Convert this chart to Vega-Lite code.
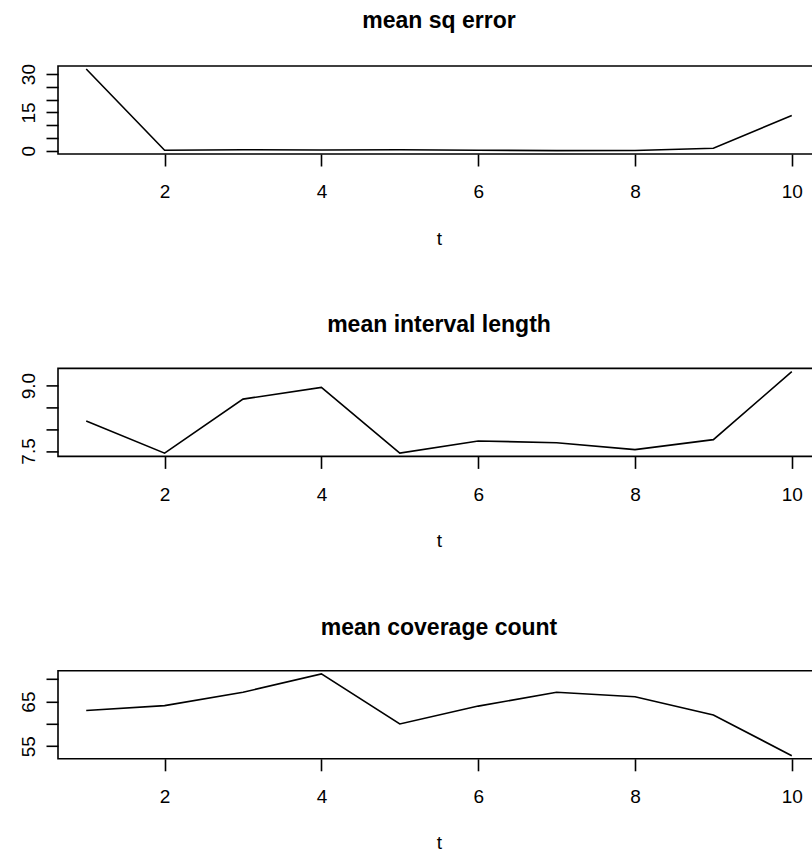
{
  "$schema": "https://vega.github.io/schema/vega-lite/v6.json",
  "padding": {"left": 18, "top": 8, "right": 0, "bottom": 0},
  "background": "white",
  "datasets": {
    "d": [
      {"t": 1, "mse": 32.0, "len": 8.19, "cov": 63.0},
      {"t": 2, "mse": 0.2, "len": 7.45, "cov": 64.1},
      {"t": 3, "mse": 0.4, "len": 8.69, "cov": 67.1},
      {"t": 4, "mse": 0.3, "len": 8.96, "cov": 71.2},
      {"t": 5, "mse": 0.4, "len": 7.45, "cov": 60.0},
      {"t": 6, "mse": 0.2, "len": 7.73, "cov": 64.0},
      {"t": 7, "mse": 0.05, "len": 7.69, "cov": 67.1},
      {"t": 8, "mse": 0.1, "len": 7.53, "cov": 66.1},
      {"t": 9, "mse": 1.0, "len": 7.76, "cov": 62.0},
      {"t": 10, "mse": 13.8, "len": 9.32, "cov": 52.9}
    ]
  },
  "config": {
    "font": "Liberation Sans",
    "view": {"stroke": "black", "strokeWidth": 1.6},
    "axis": {
      "domain": false, "grid": false, "tickColor": "black", "tickWidth": 1.6, "tickSize": 12,
      "labelFont": "Liberation Sans", "labelFontSize": 19, "labelColor": "black",
      "titleFont": "Liberation Sans", "titleFontSize": 19, "titleFontWeight": "normal", "titleColor": "black",
      "labelOverlap": false, "labelFlush": false
    },
    "title": {"font": "Liberation Sans", "fontSize": 23, "fontWeight": "bold", "color": "black", "baseline": "alphabetic", "offset": 31, "anchor": "middle"},
    "line": {"color": "black", "strokeWidth": 1.6}
  },
  "bounds": "flush",
  "spacing": 214.4,
  "vconcat": [
    {
      "width": 762, "height": 88,
      "title": "mean sq error",
      "data": {"name": "d"},
      "mark": {"type": "line"},
      "encoding": {
        "x": {"field": "t", "type": "quantitative", "scale": {"domain": [0.64, 10.36], "nice": false, "zero": false},
          "axis": {"values": [2, 4, 6, 8, 10], "title": "t", "labelBaseline": "alphabetic", "labelPadding": 31.7, "titleY": 90, "titleBaseline": "alphabetic"}},
        "y": {"field": "mse", "type": "quantitative", "scale": {"domain": [-1.28, 33.18], "nice": false, "zero": false},
          "axis": {"values": [0, 5, 10, 15, 20, 25, 30], "labelExpr": "datum.value % 15 == 0 ? datum.label : ''", "title": null, "labelAngle": -90, "labelAlign": "center", "labelBaseline": "alphabetic", "labelPadding": 12}}
      }
    },
    {
      "width": 762, "height": 88,
      "title": "mean interval length",
      "data": {"name": "d"},
      "mark": {"type": "line"},
      "encoding": {
        "x": {"field": "t", "type": "quantitative", "scale": {"domain": [0.64, 10.36], "nice": false, "zero": false},
          "axis": {"values": [2, 4, 6, 8, 10], "title": "t", "labelBaseline": "alphabetic", "labelPadding": 31.7, "titleY": 90, "titleBaseline": "alphabetic"}},
        "y": {"field": "len", "type": "quantitative", "scale": {"domain": [7.375, 9.395], "nice": false, "zero": false},
          "axis": {"values": [7.5, 8, 8.5, 9], "labelExpr": "datum.value == 7.5 || datum.value == 9 ? format(datum.value, '.1f') : ''", "title": null, "labelAngle": -90, "labelAlign": "center", "labelBaseline": "alphabetic", "labelPadding": 12}}
      }
    },
    {
      "width": 762, "height": 88,
      "title": "mean coverage count",
      "data": {"name": "d"},
      "mark": {"type": "line"},
      "encoding": {
        "x": {"field": "t", "type": "quantitative", "scale": {"domain": [0.64, 10.36], "nice": false, "zero": false},
          "axis": {"values": [2, 4, 6, 8, 10], "title": "t", "labelBaseline": "alphabetic", "labelPadding": 31.7, "titleY": 90, "titleBaseline": "alphabetic"}},
        "y": {"field": "cov", "type": "quantitative", "scale": {"domain": [52.2, 71.9], "nice": false, "zero": false},
          "axis": {"values": [55, 60, 65, 70], "labelExpr": "datum.value == 55 || datum.value == 65 ? datum.label : ''", "title": null, "labelAngle": -90, "labelAlign": "center", "labelBaseline": "alphabetic", "labelPadding": 12}}
      }
    }
  ]
}
